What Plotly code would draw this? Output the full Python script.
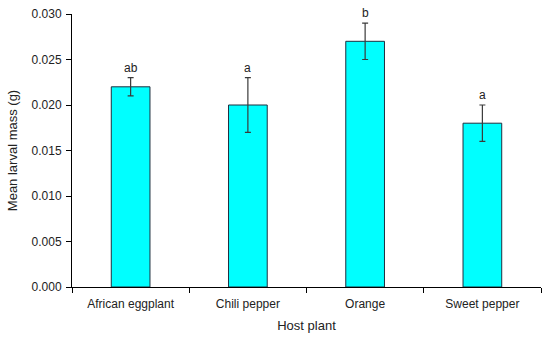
import plotly.graph_objects as go

categories = ["African eggplant", "Chili pepper", "Orange", "Sweet pepper"]
mean_mass = [0.022, 0.020, 0.027, 0.018]
err_mass = [0.001, 0.003, 0.002, 0.002]
letters = ["ab", "a", "b", "a"]

fig = go.Figure()
fig.add_trace(go.Bar(
    x=categories, y=mean_mass,
    width=0.33,
    marker=dict(color="#00FFFF", line=dict(color="#1f2f3f", width=1)),
    error_y=dict(type="data", array=err_mass, visible=True,
                 color="#3a3a3a", thickness=1.2, width=3),
))
for c, m, e, l in zip(categories, mean_mass, err_mass, letters):
    fig.add_annotation(x=c, y=m + e, text=l, showarrow=False,
                       yanchor="bottom", yshift=1,
                       font=dict(family="Liberation Sans, Arial", size=12, color="#222"))

fig.update_layout(
    width=550, height=340,
    margin=dict(l=72, r=9, t=14, b=53),
    paper_bgcolor="white", plot_bgcolor="white",
    showlegend=False,
    font=dict(family="Liberation Sans, Arial", size=12, color="#222"),
)
fig.update_xaxes(
    title=dict(text="Host plant", font=dict(size=13), standoff=10),
    type="category", range=[-0.5, 3.5], automargin=False,
    showline=True, linecolor="black", linewidth=1,
    ticks="outside", tickson="boundaries", ticklen=5, tickcolor="black",
    ticklabelstandoff=6,
    showgrid=False, zeroline=False,
)
fig.update_yaxes(
    title=dict(text="Mean larval mass (g)", font=dict(size=13), standoff=11),
    range=[0, 0.030], tickvals=[0, 0.005, 0.010, 0.015, 0.020, 0.025, 0.030],
    tickformat=".3f", automargin=False, ticklabeloverflow="allow",
    showline=True, linecolor="black", linewidth=1,
    ticks="outside", ticklen=5, tickcolor="black",
    ticklabelstandoff=2,
    showgrid=False, zeroline=False,
)
# remove the page's default 8px body margin so the 550x340 figure fills the window
fig.write_html("out.html", config={"displayModeBar": False},
               post_script="document.body.style.margin='0';")
